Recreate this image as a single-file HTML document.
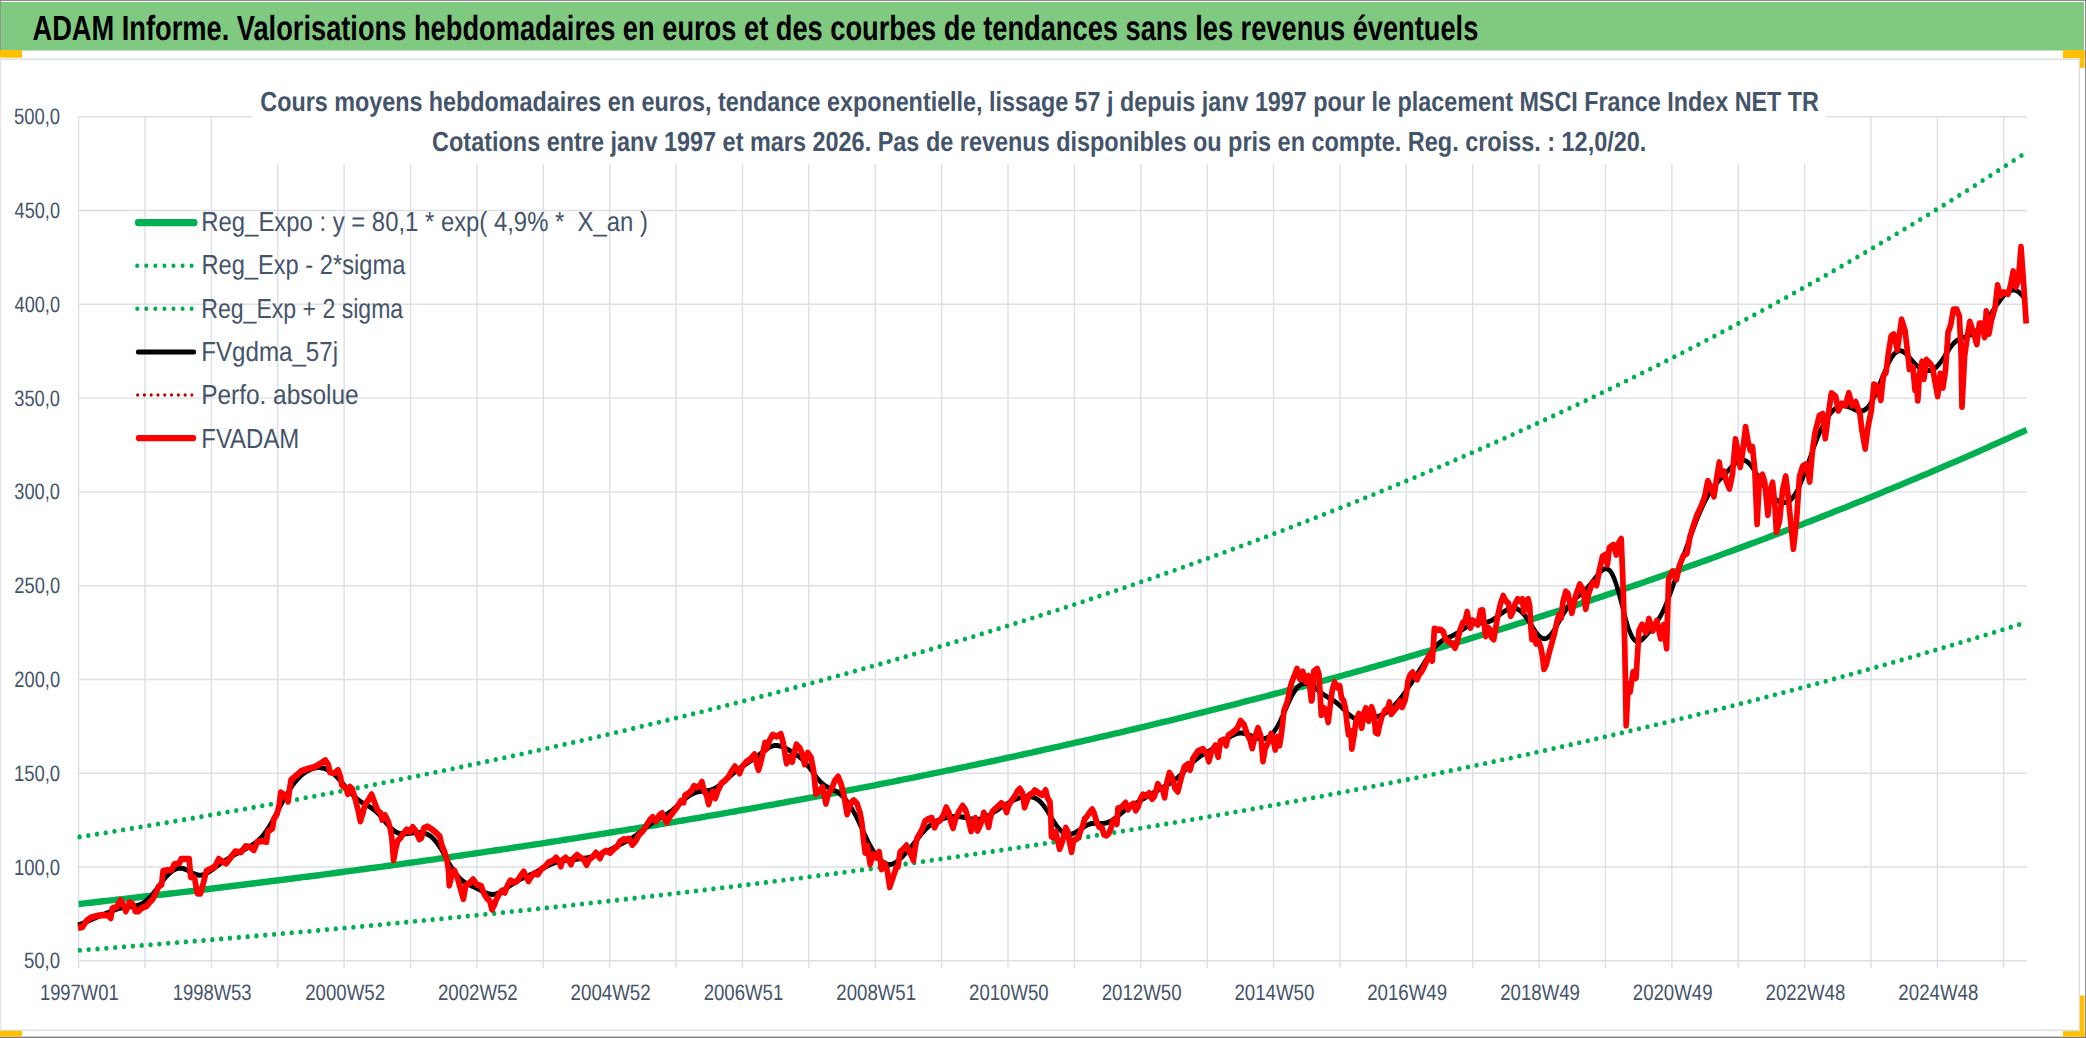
<!DOCTYPE html><html><head><meta charset="utf-8"><style>html,body{margin:0;padding:0;background:#fff;width:2086px;height:1038px;overflow:hidden}svg{display:block}text{font-family:"Liberation Sans", sans-serif;text-rendering:geometricPrecision}</style></head><body>
<svg width="2086" height="1038" viewBox="0 0 2086 1038">
<rect width="2086" height="1038" fill="#fff"/>
<rect x="1" y="2" width="2083" height="48.5" fill="#80C980"/>
<rect x="0" y="58.4" width="2080" height="1.5" fill="#DCDEE3"/>
<rect x="2078.6" y="58.4" width="1.4" height="972.5" fill="#DCDEE3"/>
<rect x="0" y="1029.6" width="2080" height="1.4" fill="#DCDEE3"/>
<rect x="0" y="58" width="1.3" height="973" fill="#E6E6E6"/>
<rect x="0" y="0" width="2086" height="0.9" fill="#7F7F7F"/>
<rect x="0" y="0" width="0.9" height="50.5" fill="#7F8F7F"/>
<rect x="2085" y="0" width="1" height="1038" fill="#8A8A8A"/>
<rect x="0" y="1036.6" width="2086" height="1.4" fill="#7F7F7F"/>
<rect x="0" y="50.1" width="22" height="7.6" fill="#FFC000"/>
<rect x="2063" y="50.1" width="21.5" height="8" fill="#FFC000"/>
<rect x="2080" y="50.1" width="4.5" height="17.8" fill="#FFC000"/>
<rect x="2080" y="995.5" width="4.5" height="41.2" fill="#FFC000"/>
<rect x="2063" y="1031.2" width="21.5" height="5.5" fill="#FFC000"/>
<rect x="0" y="1030.8" width="22" height="5.9" fill="#FFC000"/>
<path d="M78.60 116.80H252.5M1826 116.80H2026.7M78.60 210.57H2026.7M78.60 304.34H2026.7M78.60 398.11H2026.7M78.60 491.88H2026.7M78.60 585.65H2026.7M78.60 679.42H2026.7M78.60 773.19H2026.7M78.60 866.96H2026.7M78.60 960.73H2026.7M78.60 116.8V968.3M144.99 116.8V968.3M211.37 116.8V968.3M277.76 164V968.3M344.14 164V968.3M410.53 164V968.3M476.92 164V968.3M543.30 164V968.3M609.69 164V968.3M676.07 164V968.3M742.46 164V968.3M808.85 164V968.3M875.23 164V968.3M941.62 164V968.3M1008.00 164V968.3M1074.39 164V968.3M1140.78 164V968.3M1207.16 164V968.3M1273.55 164V968.3M1339.93 164V968.3M1406.32 164V968.3M1472.71 164V968.3M1539.09 164V968.3M1605.48 164V968.3M1671.86 164V968.3M1738.25 164V968.3M1804.64 164V968.3M1871.02 116.8V968.3M1937.41 116.8V968.3M2003.79 116.8V968.3" stroke="#DDE0E6" stroke-width="1.45" fill="none"/>
<text x="32.49" y="40" font-size="34.8" font-weight="bold" fill="#000" textLength="1445.86" lengthAdjust="spacingAndGlyphs">ADAM Informe. Valorisations hebdomadaires en euros et des courbes de tendances sans les revenus éventuels</text>
<text x="260.29" y="110.7" font-size="27.6" font-weight="bold" fill="#44546A" textLength="1558.65" lengthAdjust="spacingAndGlyphs">Cours moyens hebdomadaires en euros, tendance exponentielle, lissage 57 j depuis janv 1997 pour le placement MSCI France Index NET TR</text>
<text x="432.08" y="151.3" font-size="27.6" font-weight="bold" fill="#44546A" textLength="1214.23" lengthAdjust="spacingAndGlyphs">Cotations entre janv 1997 et mars 2026. Pas de revenus disponibles ou pris en compte. Reg. croiss. : 12,0/20.</text>
<text x="201.32" y="230.8" font-size="27.5" fill="#44546A" textLength="446.60" lengthAdjust="spacingAndGlyphs">Reg_Expo : y = 80,1 * exp( 4,9% *  X_an )</text>
<text x="201.44" y="274.2" font-size="27.5" fill="#44546A" textLength="203.85" lengthAdjust="spacingAndGlyphs">Reg_Exp - 2*sigma</text>
<text x="201.24" y="317.5" font-size="27.5" fill="#44546A" textLength="201.95" lengthAdjust="spacingAndGlyphs">Reg_Exp + 2 sigma</text>
<text x="201.23" y="360.9" font-size="27.5" fill="#44546A" textLength="136.86" lengthAdjust="spacingAndGlyphs">FVgdma_57j</text>
<text x="201.14" y="404.2" font-size="27.5" fill="#44546A" textLength="157.53" lengthAdjust="spacingAndGlyphs">Perfo. absolue</text>
<text x="201.30" y="447.6" font-size="27.5" fill="#44546A" textLength="98.02" lengthAdjust="spacingAndGlyphs">FVADAM</text>
<text x="13.94" y="124.3" font-size="22.3" fill="#44546A" textLength="46.20" lengthAdjust="spacingAndGlyphs">500,0</text>
<text x="14.62" y="218.1" font-size="22.3" fill="#44546A" textLength="45.37" lengthAdjust="spacingAndGlyphs">450,0</text>
<text x="14.62" y="311.8" font-size="22.3" fill="#44546A" textLength="45.37" lengthAdjust="spacingAndGlyphs">400,0</text>
<text x="14.34" y="405.6" font-size="22.3" fill="#44546A" textLength="45.62" lengthAdjust="spacingAndGlyphs">350,0</text>
<text x="14.34" y="499.4" font-size="22.3" fill="#44546A" textLength="45.62" lengthAdjust="spacingAndGlyphs">300,0</text>
<text x="14.33" y="593.1" font-size="22.3" fill="#44546A" textLength="45.74" lengthAdjust="spacingAndGlyphs">250,0</text>
<text x="14.33" y="686.9" font-size="22.3" fill="#44546A" textLength="45.74" lengthAdjust="spacingAndGlyphs">200,0</text>
<text x="13.88" y="780.7" font-size="22.3" fill="#44546A" textLength="46.19" lengthAdjust="spacingAndGlyphs">150,0</text>
<text x="13.88" y="874.5" font-size="22.3" fill="#44546A" textLength="46.19" lengthAdjust="spacingAndGlyphs">100,0</text>
<text x="23.89" y="968.2" font-size="22.3" fill="#44546A" textLength="36.13" lengthAdjust="spacingAndGlyphs">50,0</text>
<text x="39.91" y="999.9" font-size="22.3" fill="#44546A" textLength="78.73" lengthAdjust="spacingAndGlyphs">1997W01</text>
<text x="172.64" y="999.9" font-size="22.3" fill="#44546A" textLength="78.94" lengthAdjust="spacingAndGlyphs">1998W53</text>
<text x="305.28" y="999.9" font-size="22.3" fill="#44546A" textLength="79.72" lengthAdjust="spacingAndGlyphs">2000W52</text>
<text x="437.94" y="999.9" font-size="22.3" fill="#44546A" textLength="79.80" lengthAdjust="spacingAndGlyphs">2002W52</text>
<text x="570.60" y="999.9" font-size="22.3" fill="#44546A" textLength="80.06" lengthAdjust="spacingAndGlyphs">2004W52</text>
<text x="703.66" y="999.9" font-size="22.3" fill="#44546A" textLength="79.59" lengthAdjust="spacingAndGlyphs">2006W51</text>
<text x="836.35" y="999.9" font-size="22.3" fill="#44546A" textLength="79.70" lengthAdjust="spacingAndGlyphs">2008W51</text>
<text x="969.07" y="999.9" font-size="22.3" fill="#44546A" textLength="79.61" lengthAdjust="spacingAndGlyphs">2010W50</text>
<text x="1101.70" y="999.9" font-size="22.3" fill="#44546A" textLength="79.84" lengthAdjust="spacingAndGlyphs">2012W50</text>
<text x="1234.45" y="999.9" font-size="22.3" fill="#44546A" textLength="79.84" lengthAdjust="spacingAndGlyphs">2014W50</text>
<text x="1367.23" y="999.9" font-size="22.3" fill="#44546A" textLength="79.87" lengthAdjust="spacingAndGlyphs">2016W49</text>
<text x="1500.26" y="999.9" font-size="22.3" fill="#44546A" textLength="79.68" lengthAdjust="spacingAndGlyphs">2018W49</text>
<text x="1632.78" y="999.9" font-size="22.3" fill="#44546A" textLength="79.78" lengthAdjust="spacingAndGlyphs">2020W49</text>
<text x="1765.52" y="999.9" font-size="22.3" fill="#44546A" textLength="79.75" lengthAdjust="spacingAndGlyphs">2022W48</text>
<text x="1898.36" y="999.9" font-size="22.3" fill="#44546A" textLength="79.97" lengthAdjust="spacingAndGlyphs">2024W48</text>
<g transform="scale(0.88,1)">
<path d="M89.32 904.0L93.86 903.6L98.41 903.1L102.95 902.7L107.50 902.2L112.05 901.8L116.59 901.3L121.14 900.9L125.68 900.4L130.23 900.0L134.77 899.5L139.32 899.1L143.86 898.6L148.41 898.2L152.95 897.7L157.50 897.3L162.05 896.8L166.59 896.3L171.14 895.9L175.68 895.4L180.23 894.9L184.77 894.5L189.32 894.0L193.86 893.5L198.41 893.1L202.95 892.6L207.50 892.1L212.05 891.6L216.59 891.2L221.14 890.7L225.68 890.2L230.23 889.7L234.77 889.2L239.32 888.8L243.86 888.3L248.41 887.8L252.95 887.3L257.50 886.8L262.05 886.3L266.59 885.8L271.14 885.3L275.68 884.8L280.23 884.3L284.77 883.8L289.32 883.3L293.86 882.8L298.41 882.3L302.95 881.8L307.50 881.3L312.05 880.8L316.59 880.3L321.14 879.8L325.68 879.3L330.23 878.8L334.77 878.3L339.32 877.8L343.86 877.2L348.41 876.7L352.95 876.2L357.50 875.7L362.05 875.2L366.59 874.6L371.14 874.1L375.68 873.6L380.23 873.0L384.77 872.5L389.32 872.0L393.86 871.4L398.41 870.9L402.95 870.4L407.50 869.8L412.05 869.3L416.59 868.8L421.14 868.2L425.68 867.7L430.23 867.1L434.77 866.6L439.32 866.0L443.86 865.5L448.41 864.9L452.95 864.4L457.50 863.8L462.05 863.2L466.59 862.7L471.14 862.1L475.68 861.6L480.23 861.0L484.77 860.4L489.32 859.9L493.86 859.3L498.41 858.7L502.95 858.2L507.50 857.6L512.05 857.0L516.59 856.4L521.14 855.8L525.68 855.3L530.23 854.7L534.77 854.1L539.32 853.5L543.86 852.9L548.41 852.3L552.95 851.7L557.50 851.1L562.05 850.5L566.59 850.0L571.14 849.4L575.68 848.8L580.23 848.1L584.77 847.5L589.32 846.9L593.86 846.3L598.41 845.7L602.95 845.1L607.50 844.5L612.05 843.9L616.59 843.3L621.14 842.7L625.68 842.0L630.23 841.4L634.77 840.8L639.32 840.2L643.86 839.5L648.41 838.9L652.95 838.3L657.50 837.6L662.05 837.0L666.59 836.4L671.14 835.7L675.68 835.1L680.23 834.4L684.77 833.8L689.32 833.2L693.86 832.5L698.41 831.9L702.95 831.2L707.50 830.6L712.05 829.9L716.59 829.2L721.14 828.6L725.68 827.9L730.23 827.3L734.77 826.6L739.32 825.9L743.86 825.3L748.41 824.6L752.95 823.9L757.50 823.2L762.05 822.6L766.59 821.9L771.14 821.2L775.68 820.5L780.23 819.8L784.77 819.1L789.32 818.5L793.86 817.8L798.41 817.1L802.95 816.4L807.50 815.7L812.05 815.0L816.59 814.3L821.14 813.6L825.68 812.9L830.23 812.2L834.77 811.5L839.32 810.7L843.86 810.0L848.41 809.3L852.95 808.6L857.50 807.9L862.05 807.2L866.59 806.4L871.14 805.7L875.68 805.0L880.23 804.3L884.77 803.5L889.32 802.8L893.86 802.0L898.41 801.3L902.95 800.6L907.50 799.8L912.05 799.1L916.59 798.3L921.14 797.6L925.68 796.8L930.23 796.1L934.77 795.3L939.32 794.6L943.86 793.8L948.41 793.0L952.95 792.3L957.50 791.5L962.05 790.7L966.59 790.0L971.14 789.2L975.68 788.4L980.23 787.6L984.77 786.9L989.32 786.1L993.86 785.3L998.41 784.5L1002.95 783.7L1007.50 782.9L1012.05 782.1L1016.59 781.3L1021.14 780.5L1025.68 779.7L1030.23 778.9L1034.77 778.1L1039.32 777.3L1043.86 776.5L1048.41 775.7L1052.95 774.9L1057.50 774.0L1062.05 773.2L1066.59 772.4L1071.14 771.6L1075.68 770.7L1080.23 769.9L1084.77 769.1L1089.32 768.2L1093.86 767.4L1098.41 766.6L1102.95 765.7L1107.50 764.9L1112.05 764.0L1116.59 763.2L1121.14 762.3L1125.68 761.5L1130.23 760.6L1134.77 759.8L1139.32 758.9L1143.86 758.0L1148.41 757.2L1152.95 756.3L1157.50 755.4L1162.05 754.5L1166.59 753.7L1171.14 752.8L1175.68 751.9L1180.23 751.0L1184.77 750.1L1189.32 749.2L1193.86 748.3L1198.41 747.4L1202.95 746.6L1207.50 745.7L1212.05 744.7L1216.59 743.8L1221.14 742.9L1225.68 742.0L1230.23 741.1L1234.77 740.2L1239.32 739.3L1243.86 738.3L1248.41 737.4L1252.95 736.5L1257.50 735.6L1262.05 734.6L1266.59 733.7L1271.14 732.8L1275.68 731.8L1280.23 730.9L1284.77 729.9L1289.32 729.0L1293.86 728.0L1298.41 727.1L1302.95 726.1L1307.50 725.1L1312.05 724.2L1316.59 723.2L1321.14 722.2L1325.68 721.3L1330.23 720.3L1334.77 719.3L1339.32 718.3L1343.86 717.4L1348.41 716.4L1352.95 715.4L1357.50 714.4L1362.05 713.4L1366.59 712.4L1371.14 711.4L1375.68 710.4L1380.23 709.4L1384.77 708.4L1389.32 707.4L1393.86 706.3L1398.41 705.3L1402.95 704.3L1407.50 703.3L1412.05 702.2L1416.59 701.2L1421.14 700.2L1425.68 699.1L1430.23 698.1L1434.77 697.1L1439.32 696.0L1443.86 695.0L1448.41 693.9L1452.95 692.9L1457.50 691.8L1462.05 690.7L1466.59 689.7L1471.14 688.6L1475.68 687.5L1480.23 686.5L1484.77 685.4L1489.32 684.3L1493.86 683.2L1498.41 682.1L1502.95 681.0L1507.50 679.9L1512.05 678.9L1516.59 677.8L1521.14 676.7L1525.68 675.5L1530.23 674.4L1534.77 673.3L1539.32 672.2L1543.86 671.1L1548.41 670.0L1552.95 668.8L1557.50 667.7L1562.05 666.6L1566.59 665.4L1571.14 664.3L1575.68 663.2L1580.23 662.0L1584.77 660.9L1589.32 659.7L1593.86 658.6L1598.41 657.4L1602.95 656.2L1607.50 655.1L1612.05 653.9L1616.59 652.7L1621.14 651.6L1625.68 650.4L1630.23 649.2L1634.77 648.0L1639.32 646.8L1643.86 645.6L1648.41 644.4L1652.95 643.2L1657.50 642.0L1662.05 640.8L1666.59 639.6L1671.14 638.4L1675.68 637.2L1680.23 636.0L1684.77 634.7L1689.32 633.5L1693.86 632.3L1698.41 631.0L1702.95 629.8L1707.50 628.6L1712.05 627.3L1716.59 626.1L1721.14 624.8L1725.68 623.5L1730.23 622.3L1734.77 621.0L1739.32 619.8L1743.86 618.5L1748.41 617.2L1752.95 615.9L1757.50 614.6L1762.05 613.4L1766.59 612.1L1771.14 610.8L1775.68 609.5L1780.23 608.2L1784.77 606.9L1789.32 605.6L1793.86 604.2L1798.41 602.9L1802.95 601.6L1807.50 600.3L1812.05 598.9L1816.59 597.6L1821.14 596.3L1825.68 594.9L1830.23 593.6L1834.77 592.2L1839.32 590.9L1843.86 589.5L1848.41 588.2L1852.95 586.8L1857.50 585.4L1862.05 584.1L1866.59 582.7L1871.14 581.3L1875.68 579.9L1880.23 578.5L1884.77 577.1L1889.32 575.7L1893.86 574.3L1898.41 572.9L1902.95 571.5L1907.50 570.1L1912.05 568.7L1916.59 567.3L1921.14 565.8L1925.68 564.4L1930.23 563.0L1934.77 561.5L1939.32 560.1L1943.86 558.7L1948.41 557.2L1952.95 555.7L1957.50 554.3L1962.05 552.8L1966.59 551.4L1971.14 549.9L1975.68 548.4L1980.23 546.9L1984.77 545.4L1989.32 543.9L1993.86 542.5L1998.41 541.0L2002.95 539.5L2007.50 537.9L2012.05 536.4L2016.59 534.9L2021.14 533.4L2025.68 531.9L2030.23 530.3L2034.77 528.8L2039.32 527.3L2043.86 525.7L2048.41 524.2L2052.95 522.6L2057.50 521.1L2062.05 519.5L2066.59 517.9L2071.14 516.4L2075.68 514.8L2080.23 513.2L2084.77 511.6L2089.32 510.0L2093.86 508.5L2098.41 506.9L2102.95 505.3L2107.50 503.6L2112.05 502.0L2116.59 500.4L2121.14 498.8L2125.68 497.2L2130.23 495.5L2134.77 493.9L2139.32 492.3L2143.86 490.6L2148.41 489.0L2152.95 487.3L2157.50 485.7L2162.05 484.0L2166.59 482.3L2171.14 480.6L2175.68 479.0L2180.23 477.3L2184.77 475.6L2189.32 473.9L2193.86 472.2L2198.41 470.5L2202.95 468.8L2207.50 467.1L2212.05 465.3L2216.59 463.6L2221.14 461.9L2225.68 460.2L2230.23 458.4L2234.77 456.7L2239.32 454.9L2243.86 453.2L2248.41 451.4L2252.95 449.6L2257.50 447.9L2262.05 446.1L2266.59 444.3L2271.14 442.5L2275.68 440.7L2280.23 438.9L2284.77 437.1L2289.32 435.3L2293.86 433.5L2298.41 431.7L2302.95 429.9" stroke="#00B050" stroke-width="6.4" fill="none" stroke-linejoin="round"/>
<path d="M90.73 950.24h0M100.77 949.57h0M110.82 948.89h0M120.86 948.20h0M130.90 947.51h0M140.95 946.82h0M150.99 946.12h0M161.02 945.42h0M171.06 944.72h0M181.10 944.00h0M191.13 943.29h0M201.17 942.57h0M211.20 941.85h0M221.23 941.12h0M231.27 940.38h0M241.30 939.64h0M251.32 938.90h0M261.35 938.15h0M271.38 937.40h0M281.40 936.64h0M291.42 935.88h0M301.45 935.12h0M311.47 934.34h0M321.49 933.57h0M331.51 932.79h0M341.52 932.00h0M351.54 931.21h0M361.55 930.41h0M371.57 929.61h0M381.58 928.80h0M391.59 927.99h0M401.60 927.18h0M411.61 926.35h0M421.61 925.53h0M431.62 924.69h0M441.62 923.86h0M451.63 923.01h0M461.63 922.17h0M471.63 921.31h0M481.62 920.45h0M491.62 919.59h0M501.62 918.72h0M511.61 917.84h0M521.60 916.96h0M531.59 916.08h0M541.58 915.19h0M551.57 914.29h0M561.56 913.38h0M571.55 912.48h0M581.53 911.56h0M591.51 910.64h0M601.49 909.72h0M611.47 908.78h0M621.45 907.85h0M631.43 906.90h0M641.40 905.95h0M651.37 905.00h0M661.34 904.04h0M671.31 903.07h0M681.28 902.09h0M691.25 901.11h0M701.21 900.13h0M711.18 899.14h0M721.14 898.14h0M731.10 897.13h0M741.06 896.12h0M751.02 895.11h0M760.97 894.08h0M770.93 893.05h0M780.88 892.02h0M790.83 890.97h0M800.78 889.92h0M810.72 888.87h0M820.67 887.81h0M830.61 886.74h0M840.55 885.66h0M850.49 884.58h0M860.43 883.49h0M870.37 882.39h0M880.30 881.29h0M890.23 880.18h0M900.16 879.07h0M910.09 877.94h0M920.02 876.81h0M929.95 875.67h0M939.87 874.53h0M949.79 873.38h0M959.71 872.22h0M969.63 871.05h0M979.54 869.88h0M989.46 868.70h0M999.37 867.51h0M1009.28 866.32h0M1019.19 865.11h0M1029.09 863.90h0M1039.00 862.69h0M1048.90 861.46h0M1058.80 860.23h0M1068.70 858.99h0M1078.59 857.74h0M1088.49 856.49h0M1098.38 855.22h0M1108.27 853.95h0M1118.16 852.67h0M1128.04 851.39h0M1137.93 850.09h0M1147.81 848.79h0M1157.69 847.48h0M1167.56 846.16h0M1177.44 844.83h0M1187.31 843.50h0M1197.18 842.15h0M1207.05 840.80h0M1216.92 839.44h0M1226.78 838.07h0M1236.64 836.70h0M1246.50 835.31h0M1256.36 833.92h0M1266.21 832.52h0M1276.07 831.11h0M1285.92 829.69h0M1295.76 828.26h0M1305.61 826.82h0M1315.45 825.38h0M1325.29 823.92h0M1335.13 822.46h0M1344.97 820.99h0M1354.80 819.51h0M1364.63 818.02h0M1374.46 816.52h0M1384.29 815.01h0M1394.11 813.49h0M1403.93 811.97h0M1413.75 810.43h0M1423.57 808.88h0M1433.38 807.33h0M1443.19 805.77h0M1453.00 804.19h0M1462.81 802.61h0M1472.61 801.02h0M1482.41 799.41h0M1492.21 797.80h0M1502.00 796.18h0M1511.80 794.55h0M1521.59 792.91h0M1531.38 791.26h0M1541.16 789.60h0M1550.94 787.92h0M1560.72 786.24h0M1570.50 784.55h0M1580.27 782.85h0M1590.04 781.14h0M1599.81 779.42h0M1609.58 777.68h0M1619.34 775.94h0M1629.10 774.19h0M1638.85 772.42h0M1648.61 770.65h0M1658.36 768.86h0M1668.11 767.07h0M1677.85 765.26h0M1687.59 763.45h0M1697.33 761.62h0M1707.07 759.78h0M1716.80 757.93h0M1726.53 756.07h0M1736.26 754.20h0M1745.98 752.31h0M1755.70 750.42h0M1765.42 748.51h0M1775.14 746.59h0M1784.85 744.67h0M1794.56 742.73h0M1804.26 740.77h0M1813.96 738.81h0M1823.66 736.84h0M1833.36 734.85h0M1843.05 732.85h0M1852.74 730.84h0M1862.42 728.82h0M1872.11 726.79h0M1881.79 724.74h0M1891.46 722.68h0M1901.13 720.62h0M1910.80 718.53h0M1920.47 716.44h0M1930.13 714.33h0M1939.79 712.21h0M1949.44 710.08h0M1959.09 707.94h0M1968.74 705.78h0M1978.39 703.61h0M1988.03 701.43h0M1997.66 699.24h0M2007.30 697.03h0M2016.93 694.81h0M2026.55 692.58h0M2036.18 690.33h0M2045.80 688.07h0M2055.41 685.80h0M2065.02 683.51h0M2074.63 681.22h0M2084.23 678.90h0M2093.84 676.58h0M2103.43 674.24h0M2113.02 671.89h0M2122.61 669.52h0M2132.20 667.14h0M2141.78 664.75h0M2151.36 662.34h0M2160.93 659.92h0M2170.50 657.49h0M2180.06 655.04h0M2189.62 652.57h0M2199.18 650.10h0M2208.73 647.61h0M2218.28 645.10h0M2227.83 642.58h0M2237.37 640.05h0M2246.90 637.50h0M2256.44 634.93h0M2265.96 632.35h0M2275.49 629.76h0M2285.01 627.15h0M2294.52 624.53h0" stroke="#00B050" stroke-width="5.1" stroke-linecap="round" fill="none"/>
<path d="M90.39 836.90h0M100.30 835.51h0M110.21 834.11h0M120.12 832.70h0M130.02 831.28h0M139.93 829.86h0M149.83 828.42h0M159.73 826.98h0M169.63 825.53h0M179.52 824.07h0M189.41 822.60h0M199.30 821.12h0M209.19 819.63h0M219.07 818.13h0M228.95 816.63h0M238.83 815.11h0M248.71 813.59h0M258.59 812.05h0M268.46 810.51h0M278.33 808.95h0M288.19 807.39h0M298.06 805.82h0M307.92 804.24h0M317.78 802.65h0M327.64 801.05h0M337.49 799.43h0M347.34 797.81h0M357.19 796.18h0M367.03 794.54h0M376.88 792.89h0M386.72 791.23h0M396.56 789.56h0M406.39 787.88h0M416.22 786.19h0M426.05 784.49h0M435.88 782.78h0M445.70 781.06h0M455.52 779.33h0M465.34 777.58h0M475.16 775.83h0M484.97 774.07h0M494.78 772.29h0M504.58 770.51h0M514.39 768.71h0M524.19 766.91h0M533.98 765.09h0M543.78 763.26h0M553.57 761.42h0M563.36 759.57h0M573.14 757.71h0M582.93 755.84h0M592.71 753.95h0M602.48 752.06h0M612.25 750.15h0M622.02 748.24h0M631.79 746.31h0M641.55 744.37h0M651.31 742.41h0M661.07 740.45h0M670.83 738.47h0M680.58 736.49h0M690.32 734.49h0M700.07 732.48h0M709.81 730.45h0M719.55 728.42h0M729.28 726.37h0M739.01 724.31h0M748.74 722.24h0M758.46 720.16h0M768.18 718.06h0M777.90 715.95h0M787.61 713.83h0M797.32 711.70h0M807.03 709.55h0M816.73 707.40h0M826.43 705.22h0M836.12 703.04h0M845.82 700.84h0M855.50 698.63h0M865.19 696.41h0M874.87 694.18h0M884.55 691.93h0M894.22 689.66h0M903.89 687.39h0M913.56 685.10h0M923.22 682.80h0M932.88 680.48h0M942.53 678.15h0M952.18 675.81h0M961.83 673.46h0M971.47 671.09h0M981.11 668.70h0M990.75 666.31h0M1000.38 663.90h0M1010.01 661.47h0M1019.63 659.03h0M1029.25 656.58h0M1038.87 654.11h0M1048.48 651.63h0M1058.08 649.13h0M1067.69 646.62h0M1077.29 644.10h0M1086.88 641.56h0M1096.47 639.00h0M1106.06 636.43h0M1115.64 633.85h0M1125.22 631.25h0M1134.79 628.64h0M1144.36 626.01h0M1153.92 623.37h0M1163.49 620.71h0M1173.04 618.04h0M1182.59 615.35h0M1192.14 612.65h0M1201.68 609.93h0M1211.22 607.19h0M1220.75 604.44h0M1230.28 601.68h0M1239.81 598.89h0M1249.33 596.10h0M1258.84 593.28h0M1268.36 590.46h0M1277.86 587.61h0M1287.36 584.75h0M1296.86 581.87h0M1306.35 578.98h0M1315.84 576.07h0M1325.32 573.15h0M1334.80 570.20h0M1344.27 567.25h0M1353.74 564.27h0M1363.20 561.28h0M1372.66 558.27h0M1382.11 555.25h0M1391.56 552.20h0M1401.00 549.15h0M1410.44 546.07h0M1419.87 542.98h0M1429.30 539.87h0M1438.72 536.74h0M1448.14 533.60h0M1457.55 530.43h0M1466.96 527.26h0M1476.36 524.06h0M1485.76 520.84h0M1495.15 517.61h0M1504.54 514.36h0M1513.92 511.10h0M1523.29 507.81h0M1532.66 504.51h0M1542.03 501.19h0M1551.39 497.85h0M1560.74 494.49h0M1570.09 491.11h0M1579.43 487.72h0M1588.76 484.31h0M1598.10 480.88h0M1607.42 477.43h0M1616.74 473.96h0M1626.05 470.47h0M1635.36 466.97h0M1644.66 463.44h0M1653.96 459.90h0M1663.25 456.34h0M1672.54 452.76h0M1681.81 449.16h0M1691.09 445.54h0M1700.35 441.90h0M1709.62 438.24h0M1718.87 434.56h0M1728.12 430.87h0M1737.36 427.15h0M1746.60 423.41h0M1755.83 419.66h0M1765.05 415.88h0M1774.27 412.08h0M1783.48 408.27h0M1792.69 404.43h0M1801.89 400.58h0M1811.08 396.70h0M1820.27 392.80h0M1829.44 388.89h0M1838.62 384.95h0M1847.78 380.99h0M1856.95 377.01h0M1866.10 373.02h0M1875.25 369.00h0M1884.39 364.96h0M1893.52 360.90h0M1902.65 356.81h0M1911.77 352.71h0M1920.88 348.59h0M1929.99 344.44h0M1939.09 340.27h0M1948.18 336.09h0M1957.27 331.88h0M1966.35 327.65h0M1975.42 323.40h0M1984.48 319.12h0M1993.54 314.83h0M2002.59 310.51h0M2011.64 306.17h0M2020.67 301.81h0M2029.70 297.43h0M2038.73 293.03h0M2047.74 288.60h0M2056.75 284.15h0M2065.75 279.68h0M2074.74 275.19h0M2083.73 270.67h0M2092.71 266.14h0M2101.68 261.58h0M2110.64 256.99h0M2119.60 252.39h0M2128.54 247.76h0M2137.48 243.11h0M2146.42 238.44h0M2155.34 233.74h0M2164.26 229.02h0M2173.17 224.28h0M2182.07 219.52h0M2190.96 214.73h0M2199.85 209.92h0M2208.73 205.08h0M2217.60 200.23h0M2226.46 195.34h0M2235.31 190.44h0M2244.16 185.51h0M2253.00 180.56h0M2261.82 175.59h0M2270.65 170.59h0M2279.46 165.56h0M2288.26 160.52h0M2297.06 155.45h0" stroke="#00B050" stroke-width="5.1" stroke-linecap="round" fill="none"/>
<path d="M88.64 925.1L90.91 924.4L93.18 923.6L95.45 922.8L97.73 922.0L100.00 921.1L102.27 920.2L104.55 919.3L106.82 918.4L109.09 917.6L111.36 916.7L113.64 915.9L115.91 915.1L118.18 914.3L120.45 913.4L122.73 912.6L125.00 911.8L127.27 911.0L129.55 910.2L131.82 909.4L134.09 908.8L136.36 908.2L138.64 907.8L140.91 907.4L143.18 907.1L145.45 906.9L147.73 906.7L150.00 906.5L152.27 906.2L154.55 905.8L156.82 905.3L159.09 904.6L161.36 903.6L163.64 902.4L165.91 900.9L168.18 899.2L170.45 897.2L172.73 894.9L175.00 892.5L177.27 890.0L179.55 887.3L181.82 884.6L184.09 882.0L186.36 879.4L188.64 877.0L190.91 874.8L193.18 872.9L195.45 871.2L197.73 869.9L200.00 868.9L202.27 868.3L204.55 868.1L206.82 868.3L209.09 868.8L211.36 869.6L213.64 870.5L215.91 871.6L218.18 872.7L220.45 873.7L222.73 874.5L225.00 875.0L227.27 875.2L229.55 875.0L231.82 874.5L234.09 873.6L236.36 872.5L238.64 871.2L240.91 869.8L243.18 868.3L245.45 866.8L247.73 865.3L250.00 863.8L252.27 862.5L254.55 861.1L256.82 859.9L259.09 858.6L261.36 857.4L263.64 856.3L265.91 855.1L268.18 854.0L270.45 852.9L272.73 851.8L275.00 850.8L277.27 849.7L279.55 848.7L281.82 847.6L284.09 846.5L286.36 845.2L288.64 843.9L290.91 842.4L293.18 840.7L295.45 838.7L297.73 836.5L300.00 834.1L302.27 831.3L304.55 828.3L306.82 825.1L309.09 821.6L311.36 818.0L313.64 814.2L315.91 810.4L318.18 806.7L320.45 802.9L322.73 799.2L325.00 795.7L327.27 792.4L329.55 789.2L331.82 786.2L334.09 783.5L336.36 780.9L338.64 778.7L340.91 776.6L343.18 774.8L345.45 773.2L347.73 771.8L350.00 770.6L352.27 769.6L354.55 768.8L356.82 768.2L359.09 767.8L361.36 767.6L363.64 767.6L365.91 767.9L368.18 768.3L370.45 769.1L372.73 770.0L375.00 771.2L377.27 772.6L379.55 774.3L381.82 776.1L384.09 778.1L386.36 780.3L388.64 782.5L390.91 784.9L393.18 787.2L395.45 789.6L397.73 791.9L400.00 794.1L402.27 796.1L404.55 798.0L406.82 799.7L409.09 801.2L411.36 802.5L413.64 803.7L415.91 804.8L418.18 805.9L420.45 807.0L422.73 808.3L425.00 809.8L427.27 811.5L429.55 813.4L431.82 815.5L434.09 817.8L436.36 820.2L438.64 822.7L440.91 825.0L443.18 827.2L445.45 829.1L447.73 830.7L450.00 832.0L452.27 833.0L454.55 833.6L456.82 833.9L459.09 833.9L461.36 833.8L463.64 833.6L465.91 833.3L468.18 833.0L470.45 832.8L472.73 832.6L475.00 832.5L477.27 832.5L479.55 832.7L481.82 833.1L484.09 833.7L486.36 834.6L488.64 835.8L490.91 837.4L493.18 839.3L495.45 841.7L497.73 844.4L500.00 847.4L502.27 850.7L504.55 854.2L506.82 857.8L509.09 861.3L511.36 864.8L513.64 868.1L515.91 871.2L518.18 874.0L520.45 876.4L522.73 878.5L525.00 880.3L527.27 881.8L529.55 883.1L531.82 884.2L534.09 885.2L536.36 886.1L538.64 887.0L540.91 888.0L543.18 889.0L545.45 890.0L547.73 891.1L550.00 892.1L552.27 893.0L554.55 893.7L556.82 894.1L559.09 894.4L561.36 894.3L563.64 893.9L565.91 893.2L568.18 892.3L570.45 891.2L572.73 889.9L575.00 888.5L577.27 887.1L579.55 885.7L581.82 884.3L584.09 882.9L586.36 881.7L588.64 880.5L590.91 879.4L593.18 878.5L595.45 877.5L597.73 876.6L600.00 875.8L602.27 874.9L604.55 874.0L606.82 873.0L609.09 872.0L611.36 870.9L613.64 869.9L615.91 868.8L618.18 867.7L620.45 866.6L622.73 865.6L625.00 864.7L627.27 863.8L629.55 863.1L631.82 862.4L634.09 861.8L636.36 861.4L638.64 860.9L640.91 860.6L643.18 860.3L645.45 860.0L647.73 859.8L650.00 859.6L652.27 859.4L654.55 859.2L656.82 859.0L659.09 858.8L661.36 858.6L663.64 858.3L665.91 858.0L668.18 857.7L670.45 857.2L672.73 856.8L675.00 856.2L677.27 855.6L679.55 854.9L681.82 854.2L684.09 853.4L686.36 852.5L688.64 851.6L690.91 850.7L693.18 849.7L695.45 848.7L697.73 847.7L700.00 846.6L702.27 845.6L704.55 844.5L706.82 843.5L709.09 842.5L711.36 841.4L713.64 840.4L715.91 839.2L718.18 838.0L720.45 836.8L722.73 835.4L725.00 833.9L727.27 832.4L729.55 830.8L731.82 829.2L734.09 827.5L736.36 826.0L738.64 824.4L740.91 823.0L743.18 821.7L745.45 820.4L747.73 819.2L750.00 818.1L752.27 817.0L754.55 815.9L756.82 814.7L759.09 813.4L761.36 812.0L763.64 810.5L765.91 808.8L768.18 807.1L770.45 805.3L772.73 803.5L775.00 801.6L777.27 799.8L779.55 798.1L781.82 796.6L784.09 795.2L786.36 794.1L788.64 793.1L790.91 792.4L793.18 791.9L795.45 791.5L797.73 791.3L800.00 791.1L802.27 790.9L804.55 790.6L806.82 790.2L809.09 789.6L811.36 788.7L813.64 787.7L815.91 786.4L818.18 785.0L820.45 783.4L822.73 781.6L825.00 779.9L827.27 778.0L829.55 776.2L831.82 774.5L834.09 772.8L836.36 771.2L838.64 769.6L840.91 768.1L843.18 766.7L845.45 765.4L847.73 764.1L850.00 762.7L852.27 761.4L854.55 760.1L856.82 758.7L859.09 757.2L861.36 755.7L863.64 754.1L865.91 752.5L868.18 750.9L870.45 749.4L872.73 748.1L875.00 747.0L877.27 746.1L879.55 745.6L881.82 745.4L884.09 745.6L886.36 746.0L888.64 746.7L890.91 747.6L893.18 748.5L895.45 749.6L897.73 750.7L900.00 751.9L902.27 753.1L904.55 754.4L906.82 755.8L909.09 757.4L911.36 759.1L913.64 761.1L915.91 763.4L918.18 765.8L920.45 768.5L922.73 771.2L925.00 773.9L927.27 776.6L929.55 779.1L931.82 781.3L934.09 783.3L936.36 784.9L938.64 786.3L940.91 787.5L943.18 788.4L945.45 789.4L947.73 790.3L950.00 791.3L952.27 792.5L954.55 794.0L956.82 795.7L959.09 797.7L961.36 800.0L963.64 802.7L965.91 805.7L968.18 808.9L970.45 812.5L972.73 816.3L975.00 820.3L977.27 824.5L979.55 828.8L981.82 833.1L984.09 837.3L986.36 841.4L988.64 845.2L990.91 848.8L993.18 852.1L995.45 855.0L997.73 857.5L1000.00 859.7L1002.27 861.5L1004.55 862.9L1006.82 863.9L1009.09 864.4L1011.36 864.5L1013.64 864.1L1015.91 863.4L1018.18 862.2L1020.45 860.7L1022.73 859.0L1025.00 857.1L1027.27 855.0L1029.55 852.8L1031.82 850.4L1034.09 848.1L1036.36 845.6L1038.64 843.2L1040.91 840.7L1043.18 838.2L1045.45 835.7L1047.73 833.3L1050.00 831.1L1052.27 829.0L1054.55 827.1L1056.82 825.4L1059.09 823.9L1061.36 822.6L1063.64 821.4L1065.91 820.4L1068.18 819.6L1070.45 818.9L1072.73 818.3L1075.00 817.8L1077.27 817.4L1079.55 817.0L1081.82 816.8L1084.09 816.6L1086.36 816.6L1088.64 816.6L1090.91 816.8L1093.18 817.0L1095.45 817.4L1097.73 817.8L1100.00 818.2L1102.27 818.7L1104.55 819.0L1106.82 819.3L1109.09 819.4L1111.36 819.3L1113.64 819.0L1115.91 818.5L1118.18 817.8L1120.45 816.9L1122.73 815.8L1125.00 814.7L1127.27 813.4L1129.55 812.1L1131.82 810.8L1134.09 809.5L1136.36 808.2L1138.64 806.9L1140.91 805.6L1143.18 804.4L1145.45 803.2L1147.73 802.1L1150.00 801.0L1152.27 800.0L1154.55 799.2L1156.82 798.4L1159.09 797.7L1161.36 797.2L1163.64 796.8L1165.91 796.6L1168.18 796.5L1170.45 796.6L1172.73 796.9L1175.00 797.5L1177.27 798.5L1179.55 799.8L1181.82 801.5L1184.09 803.6L1186.36 806.1L1188.64 809.0L1190.91 812.1L1193.18 815.3L1195.45 818.6L1197.73 821.8L1200.00 824.8L1202.27 827.5L1204.55 829.8L1206.82 831.7L1209.09 833.1L1211.36 834.0L1213.64 834.4L1215.91 834.4L1218.18 834.0L1220.45 833.2L1222.73 832.2L1225.00 830.9L1227.27 829.6L1229.55 828.2L1231.82 826.8L1234.09 825.7L1236.36 824.7L1238.64 824.0L1240.91 823.5L1243.18 823.3L1245.45 823.2L1247.73 823.3L1250.00 823.4L1252.27 823.5L1254.55 823.3L1256.82 823.0L1259.09 822.4L1261.36 821.5L1263.64 820.4L1265.91 819.0L1268.18 817.5L1270.45 815.9L1272.73 814.2L1275.00 812.6L1277.27 811.0L1279.55 809.5L1281.82 808.1L1284.09 806.7L1286.36 805.5L1288.64 804.3L1290.91 803.1L1293.18 801.9L1295.45 800.8L1297.73 799.6L1300.00 798.4L1302.27 797.3L1304.55 796.1L1306.82 794.9L1309.09 793.7L1311.36 792.6L1313.64 791.4L1315.91 790.3L1318.18 789.1L1320.45 788.0L1322.73 786.8L1325.00 785.6L1327.27 784.4L1329.55 783.2L1331.82 781.9L1334.09 780.4L1336.36 778.9L1338.64 777.2L1340.91 775.4L1343.18 773.5L1345.45 771.4L1347.73 769.3L1350.00 767.2L1352.27 765.1L1354.55 763.1L1356.82 761.2L1359.09 759.5L1361.36 757.9L1363.64 756.4L1365.91 755.1L1368.18 753.9L1370.45 752.8L1372.73 751.7L1375.00 750.6L1377.27 749.5L1379.55 748.3L1381.82 747.1L1384.09 745.7L1386.36 744.3L1388.64 742.8L1390.91 741.2L1393.18 739.7L1395.45 738.2L1397.73 736.9L1400.00 735.6L1402.27 734.6L1404.55 733.8L1406.82 733.3L1409.09 733.1L1411.36 733.1L1413.64 733.4L1415.91 733.8L1418.18 734.5L1420.45 735.3L1422.73 736.1L1425.00 736.9L1427.27 737.7L1429.55 738.3L1431.82 738.7L1434.09 738.9L1436.36 738.8L1438.64 738.3L1440.91 737.4L1443.18 736.1L1445.45 734.2L1447.73 731.8L1450.00 728.8L1452.27 725.4L1454.55 721.5L1456.82 717.3L1459.09 712.8L1461.36 708.3L1463.64 703.8L1465.91 699.5L1468.18 695.6L1470.45 692.1L1472.73 689.2L1475.00 686.8L1477.27 685.1L1479.55 684.0L1481.82 683.4L1484.09 683.4L1486.36 683.8L1488.64 684.6L1490.91 685.8L1493.18 687.1L1495.45 688.7L1497.73 690.3L1500.00 691.9L1502.27 693.4L1504.55 694.8L1506.82 696.1L1509.09 697.4L1511.36 698.5L1513.64 699.7L1515.91 700.9L1518.18 702.3L1520.45 703.9L1522.73 705.7L1525.00 707.6L1527.27 709.7L1529.55 711.7L1531.82 713.7L1534.09 715.5L1536.36 716.9L1538.64 718.1L1540.91 718.9L1543.18 719.4L1545.45 719.6L1547.73 719.6L1550.00 719.4L1552.27 719.2L1554.55 718.8L1556.82 718.5L1559.09 718.1L1561.36 717.6L1563.64 717.1L1565.91 716.5L1568.18 715.7L1570.45 714.8L1572.73 713.7L1575.00 712.5L1577.27 711.1L1579.55 709.5L1581.82 707.7L1584.09 705.8L1586.36 703.7L1588.64 701.5L1590.91 699.0L1593.18 696.4L1595.45 693.7L1597.73 690.8L1600.00 687.9L1602.27 684.9L1604.55 681.9L1606.82 678.8L1609.09 675.8L1611.36 672.7L1613.64 669.5L1615.91 666.4L1618.18 663.2L1620.45 660.0L1622.73 656.9L1625.00 653.9L1627.27 651.0L1629.55 648.4L1631.82 646.0L1634.09 644.0L1636.36 642.3L1638.64 640.8L1640.91 639.7L1643.18 638.7L1645.45 637.8L1647.73 636.9L1650.00 636.0L1652.27 634.9L1654.55 633.8L1656.82 632.6L1659.09 631.2L1661.36 629.9L1663.64 628.5L1665.91 627.3L1668.18 626.2L1670.45 625.2L1672.73 624.4L1675.00 623.9L1677.27 623.5L1679.55 623.2L1681.82 623.1L1684.09 622.9L1686.36 622.7L1688.64 622.4L1690.91 621.9L1693.18 621.2L1695.45 620.2L1697.73 619.0L1700.00 617.6L1702.27 616.1L1704.55 614.5L1706.82 613.0L1709.09 611.6L1711.36 610.3L1713.64 609.3L1715.91 608.5L1718.18 608.1L1720.45 608.1L1722.73 608.5L1725.00 609.3L1727.27 610.6L1729.55 612.3L1731.82 614.4L1734.09 617.0L1736.36 619.9L1738.64 623.0L1740.91 626.2L1743.18 629.4L1745.45 632.3L1747.73 634.9L1750.00 636.9L1752.27 638.2L1754.55 638.8L1756.82 638.5L1759.09 637.5L1761.36 635.7L1763.64 633.2L1765.91 630.3L1768.18 626.9L1770.45 623.4L1772.73 619.8L1775.00 616.2L1777.27 612.8L1779.55 609.7L1781.82 606.8L1784.09 604.3L1786.36 602.0L1788.64 599.9L1790.91 598.1L1793.18 596.3L1795.45 594.6L1797.73 592.9L1800.00 591.1L1802.27 589.1L1804.55 587.0L1806.82 584.7L1809.09 582.3L1811.36 579.7L1813.64 577.1L1815.91 574.6L1818.18 572.3L1820.45 570.4L1822.73 569.1L1825.00 568.6L1827.27 569.2L1829.55 570.8L1831.82 573.8L1834.09 578.0L1836.36 583.5L1838.64 590.1L1840.91 597.4L1843.18 605.1L1845.45 612.9L1847.73 620.3L1850.00 626.9L1852.27 632.4L1854.55 636.7L1856.82 639.5L1859.09 641.1L1861.36 641.4L1863.64 640.8L1865.91 639.5L1868.18 637.6L1870.45 635.5L1872.73 633.2L1875.00 630.8L1877.27 628.4L1879.55 625.8L1881.82 623.1L1884.09 620.2L1886.36 616.9L1888.64 613.2L1890.91 609.0L1893.18 604.4L1895.45 599.5L1897.73 594.2L1900.00 588.7L1902.27 583.0L1904.55 577.2L1906.82 571.5L1909.09 565.7L1911.36 560.0L1913.64 554.3L1915.91 548.7L1918.18 543.1L1920.45 537.6L1922.73 532.2L1925.00 526.9L1927.27 521.7L1929.55 516.8L1931.82 512.0L1934.09 507.5L1936.36 503.2L1938.64 499.3L1940.91 495.7L1943.18 492.3L1945.45 489.3L1947.73 486.5L1950.00 484.0L1952.27 481.6L1954.55 479.3L1956.82 477.1L1959.09 475.0L1961.36 472.9L1963.64 470.7L1965.91 468.6L1968.18 466.5L1970.45 464.6L1972.73 462.9L1975.00 461.5L1977.27 460.5L1979.55 460.1L1981.82 460.2L1984.09 461.0L1986.36 462.4L1988.64 464.4L1990.91 467.0L1993.18 469.9L1995.45 473.1L1997.73 476.4L2000.00 479.8L2002.27 483.1L2004.55 486.3L2006.82 489.2L2009.09 491.9L2011.36 494.3L2013.64 496.4L2015.91 498.2L2018.18 499.7L2020.45 500.9L2022.73 501.8L2025.00 502.4L2027.27 502.6L2029.55 502.3L2031.82 501.6L2034.09 500.4L2036.36 498.5L2038.64 496.0L2040.91 492.9L2043.18 489.2L2045.45 484.8L2047.73 480.0L2050.00 474.8L2052.27 469.3L2054.55 463.7L2056.82 458.0L2059.09 452.3L2061.36 446.8L2063.64 441.5L2065.91 436.4L2068.18 431.7L2070.45 427.4L2072.73 423.4L2075.00 419.8L2077.27 416.7L2079.55 413.9L2081.82 411.6L2084.09 409.7L2086.36 408.1L2088.64 407.0L2090.91 406.2L2093.18 405.8L2095.45 405.8L2097.73 406.0L2100.00 406.6L2102.27 407.3L2104.55 408.3L2106.82 409.2L2109.09 410.1L2111.36 410.8L2113.64 411.1L2115.91 411.0L2118.18 410.4L2120.45 409.0L2122.73 407.1L2125.00 404.4L2127.27 401.1L2129.55 397.3L2131.82 393.0L2134.09 388.3L2136.36 383.4L2138.64 378.4L2140.91 373.5L2143.18 368.7L2145.45 364.3L2147.73 360.3L2150.00 356.9L2152.27 354.1L2154.55 352.2L2156.82 351.0L2159.09 350.6L2161.36 351.1L2163.64 352.2L2165.91 353.8L2168.18 355.9L2170.45 358.2L2172.73 360.5L2175.00 362.8L2177.27 364.9L2179.55 366.6L2181.82 368.1L2184.09 369.2L2186.36 370.0L2188.64 370.5L2190.91 370.6L2193.18 370.4L2195.45 369.8L2197.73 368.8L2200.00 367.3L2202.27 365.4L2204.55 363.0L2206.82 360.2L2209.09 357.2L2211.36 354.0L2213.64 350.9L2215.91 347.9L2218.18 345.3L2220.45 343.0L2222.73 341.2L2225.00 339.9L2227.27 338.8L2229.55 338.1L2231.82 337.4L2234.09 336.8L2236.36 336.0L2238.64 335.2L2240.91 334.1L2243.18 332.8L2245.45 331.3L2247.73 329.6L2250.00 327.6L2252.27 325.5L2254.55 323.2L2256.82 320.6L2259.09 317.9L2261.36 315.1L2263.64 312.1L2265.91 309.1L2268.18 306.1L2270.45 303.2L2272.73 300.4L2275.00 297.7L2277.27 295.4L2279.55 293.4L2281.82 291.7L2284.09 290.6L2286.36 289.9L2288.64 289.8L2290.91 290.4L2293.18 291.5L2295.45 293.1L2297.73 295.2L2300.00 297.7L2302.27 300.5" stroke="#000" stroke-width="5.0" fill="none" stroke-linejoin="round"/>
<path d="M88.64 927.8L93.75 927.0L97.95 921.0L103.86 917.3L110.68 915.8L118.30 915.1L123.41 915.8L125.91 918.0L127.61 908.4L132.73 906.9L136.93 900.1L140.34 905.4L142.95 911.3L147.16 902.4L150.57 903.9L153.98 911.3L157.27 911.3L161.59 907.6L166.70 906.1L170.00 902.4L173.41 899.4L176.82 893.4L180.23 886.7L183.64 884.5L185.34 871.0L190.45 870.3L195.45 869.6L198.07 864.3L203.98 862.8L205.68 859.1L215.00 859.1L216.70 877.0L220.91 877.8L224.32 893.4L227.73 893.4L231.14 883.0L234.55 871.0L239.55 868.8L244.32 866.4L248.52 859.0L251.93 861.2L257.05 863.4L262.16 857.5L267.16 851.5L273.98 852.2L279.09 846.3L284.20 847.0L288.41 850.0L292.61 841.8L298.64 841.0L302.84 841.8L304.55 831.3L309.66 828.4L311.36 818.7L314.77 814.2L317.27 805.2L318.98 792.5L323.18 794.8L327.39 801.5L329.09 788.8L330.80 779.9L336.70 775.4L342.73 770.9L350.34 768.7L357.16 767.2L363.07 764.2L369.77 760.4L373.18 764.9L374.89 772.4L380.00 773.1L384.20 770.1L386.82 776.9L388.52 785.1L393.52 788.8L395.23 794.0L397.73 786.9L400.23 789.2L403.64 798.9L407.05 810.8L409.55 821.3L412.16 813.8L414.66 804.9L418.98 799.6L422.27 794.4L425.68 802.6L429.09 810.1L432.50 813.1L434.20 819.8L437.61 815.3L441.02 821.3L443.52 828.7L445.23 837.7L447.27 860.1L449.43 849.6L452.05 840.7L455.34 837.7L457.95 834.0L462.16 829.5L465.57 831.7L468.98 827.2L472.39 831.0L476.59 839.2L479.09 837.7L481.70 828.0L485.91 826.5L491.02 829.5L495.23 832.5L499.55 836.2L502.05 845.1L505.45 852.6L507.95 860.1L509.66 870.5L510.57 885.4L513.07 876.5L516.48 870.5L519.89 878.0L523.18 888.4L526.59 898.9L529.20 885.4L533.41 883.2L537.61 879.5L541.93 884.7L546.93 886.2L550.34 894.4L553.75 898.9L554.55 898.7L556.82 901.4L559.09 909.5L561.48 905.4L563.75 900.0L566.82 894.6L570.68 890.6L573.75 892.6L576.82 885.2L579.89 880.5L584.43 882.5L588.30 880.5L592.05 875.1L595.11 871.7L598.18 877.1L600.57 881.2L603.64 876.4L608.18 873.1L611.25 874.4L615.11 869.0L618.86 867.0L623.52 862.3L628.07 860.9L631.93 857.6L635.00 860.9L637.27 866.3L639.66 859.6L642.73 857.6L646.48 860.9L648.86 864.3L651.82 858.2L655.68 854.9L659.55 857.6L663.41 859.6L666.48 865.0L669.55 859.6L673.30 856.9L677.16 852.8L681.82 858.2L684.77 852.8L688.64 850.8L693.30 852.8L697.84 848.8L701.70 846.1L704.77 841.4L708.64 839.3L710.23 840.0L714.77 838.7L718.64 844.8L722.50 840.7L726.36 834.6L730.91 830.6L734.77 825.2L738.64 819.8L741.70 817.1L745.45 821.2L749.32 815.1L752.39 813.1L754.66 817.8L757.73 822.5L760.80 817.1L765.45 811.7L770.00 806.3L773.86 800.9L776.93 802.3L778.41 795.5L782.27 793.5L786.14 790.1L788.41 786.1L792.27 787.4L795.34 785.4L797.61 782.0L799.89 790.1L802.95 795.5L805.23 804.3L807.50 797.6L809.89 791.5L812.95 798.2L816.02 790.1L819.77 783.4L823.64 780.7L827.50 777.3L831.36 771.3L835.11 766.5L838.18 769.9L840.45 773.3L843.52 766.5L848.18 761.8L852.73 759.1L857.39 754.4L860.45 765.9L861.93 769.9L865.00 760.5L867.39 751.0L869.32 742.9L870.45 749.5L874.32 740.6L877.95 734.8L882.61 736.5L887.27 734.0L890.11 743.0L893.86 763.5L897.50 756.9L900.34 761.8L902.16 753.7L905.00 744.6L908.75 747.9L911.48 753.7L914.32 764.3L917.95 752.8L921.70 757.7L924.55 770.8L926.36 787.2L927.27 793.8L931.02 790.5L934.77 787.2L938.52 803.6L941.25 793.8L945.00 788.9L948.75 780.7L952.39 776.6L956.14 784.8L958.98 795.4L962.61 814.2L966.36 803.6L970.11 800.3L973.86 803.6L977.50 813.4L979.43 823.2L981.25 839.6L983.18 852.7L985.91 846.2L988.75 864.2L992.39 854.4L996.14 857.6L998.98 851.9L1001.70 869.1L1005.45 863.4L1008.30 870.7L1011.02 887.1L1014.77 877.3L1018.52 867.5L1020.45 866.7L1022.84 851.9L1025.91 849.8L1030.11 845.5L1033.75 851.9L1037.95 860.4L1040.34 845.5L1042.16 838.1L1045.80 832.8L1048.18 828.6L1051.14 821.2L1055.34 819.0L1058.98 818.0L1062.05 827.5L1065.00 822.2L1068.64 820.1L1072.27 814.8L1075.23 807.4L1078.30 812.7L1080.68 822.2L1083.07 828.1L1086.14 818.0L1089.66 811.6L1093.86 805.8L1096.93 809.5L1099.32 815.9L1101.70 824.3L1103.52 831.2L1105.91 824.3L1108.41 818.0L1110.80 830.7L1113.18 826.5L1115.57 821.2L1117.95 812.7L1121.02 819.0L1123.41 827.0L1125.23 818.0L1127.61 811.6L1131.25 808.5L1134.20 806.3L1137.84 803.2L1140.91 805.3L1143.86 812.2L1146.25 805.3L1149.89 800.0L1152.95 796.8L1155.91 791.5L1158.98 788.8L1161.93 793.1L1164.32 807.4L1166.82 801.0L1169.77 794.7L1172.84 793.6L1175.80 790.4L1179.55 792.6L1180.57 793.1L1184.32 795.0L1188.18 790.2L1190.34 797.9L1193.07 801.8L1194.20 818.2L1194.77 836.5L1198.07 837.4L1199.66 831.7L1202.39 842.3L1204.09 849.0L1206.25 844.2L1208.41 837.4L1211.14 827.8L1213.41 831.7L1215.57 843.2L1217.73 851.9L1219.89 840.3L1222.61 839.4L1225.45 837.4L1227.61 831.7L1230.34 825.9L1232.50 819.1L1235.80 815.8L1239.09 811.4L1241.25 809.5L1243.41 813.4L1246.25 822.0L1248.98 826.8L1252.27 827.8L1254.43 834.5L1257.16 835.5L1259.89 833.6L1262.61 827.8L1264.32 821.1L1267.05 820.1L1269.20 824.0L1270.34 808.5L1273.52 807.6L1276.25 805.6L1279.09 802.8L1281.82 809.5L1284.55 805.6L1287.84 803.7L1290.57 810.5L1293.30 806.6L1296.02 798.9L1298.75 794.6L1302.05 796.0L1305.91 793.1L1309.20 798.9L1311.93 796.0L1315.68 784.0L1318.41 787.8L1321.14 789.3L1323.41 797.5L1326.14 781.6L1328.86 772.9L1331.59 776.7L1335.23 788.3L1338.41 791.6L1341.70 780.0L1345.80 767.0L1349.89 764.1L1352.39 769.9L1355.68 758.4L1361.36 751.1L1367.16 749.0L1371.25 754.0L1373.64 761.3L1376.93 751.1L1381.02 745.4L1384.32 756.9L1386.82 741.0L1390.91 739.6L1393.41 745.4L1395.91 735.2L1400.80 732.4L1405.68 728.7L1409.77 720.8L1413.86 725.1L1417.16 733.8L1420.45 739.6L1422.95 748.3L1426.25 736.7L1429.55 728.0L1432.84 736.7L1435.23 761.3L1437.73 748.3L1441.02 742.5L1444.32 733.8L1446.70 739.6L1449.20 749.7L1451.70 736.7L1454.09 745.4L1456.59 730.9L1459.09 710.7L1463.18 700.6L1465.68 689.0L1468.07 681.8L1471.36 674.6L1473.86 668.8L1477.16 678.9L1480.45 671.7L1483.75 681.8L1486.93 676.0L1490.23 700.6L1490.91 700.1L1492.95 671.2L1496.82 668.9L1498.86 674.7L1500.11 694.3L1501.48 715.1L1504.77 708.2L1507.39 714.0L1509.32 722.1L1511.36 707.1L1513.98 689.7L1516.59 682.2L1519.89 687.4L1522.50 686.2L1524.43 697.8L1527.05 701.3L1529.09 709.4L1530.34 720.9L1532.39 734.8L1535.00 731.3L1536.25 748.7L1538.86 734.8L1540.91 720.9L1544.20 714.0L1547.50 727.9L1549.43 714.0L1552.05 708.2L1555.34 720.9L1558.64 707.1L1561.25 714.0L1563.18 732.5L1565.80 733.6L1567.84 724.4L1570.45 716.3L1573.75 710.5L1577.05 708.2L1578.98 702.4L1580.91 714.0L1584.20 710.5L1587.50 707.1L1590.80 701.3L1593.41 707.1L1596.70 700.1L1598.64 690.9L1600.00 680.5L1602.61 674.7L1605.23 672.4L1607.84 677.0L1610.45 679.3L1612.50 674.7L1615.80 671.2L1619.09 665.4L1622.39 658.5L1625.00 653.9L1627.61 660.8L1630.00 628.7L1633.52 629.8L1637.16 629.8L1640.23 631.9L1642.61 639.3L1646.25 641.5L1649.77 643.6L1653.41 647.8L1655.80 642.5L1658.86 630.9L1662.50 622.4L1664.89 621.3L1667.27 611.8L1669.09 622.4L1670.91 627.7L1673.30 620.3L1676.36 622.4L1679.32 624.5L1682.39 610.7L1684.77 610.2L1686.59 624.5L1688.41 636.2L1690.80 627.7L1693.18 629.8L1695.00 637.2L1697.39 639.3L1699.77 627.7L1702.16 615.0L1705.23 603.3L1708.18 595.9L1711.25 601.2L1714.20 603.3L1716.70 616.0L1719.09 611.8L1721.48 604.4L1724.55 599.1L1727.50 601.2L1729.89 599.1L1731.70 611.8L1733.52 601.2L1736.59 599.1L1738.30 606.5L1739.55 626.6L1740.80 639.3L1743.18 631.9L1745.57 643.6L1748.52 641.5L1751.02 647.8L1752.84 656.3L1754.55 669.0L1757.05 664.8L1760.00 654.2L1763.64 642.5L1766.59 633.0L1769.09 622.4L1771.48 615.0L1773.86 618.2L1776.25 601.2L1779.32 591.7L1781.82 593.8L1786.25 612.9L1790.80 595.1L1795.23 584.3L1798.64 589.2L1801.93 608.9L1805.34 593.2L1809.77 582.3L1814.32 585.3L1817.61 569.5L1821.02 556.6L1824.43 554.7L1826.59 564.5L1828.86 547.8L1833.41 544.8L1836.70 554.7L1838.98 543.8L1842.27 538.9L1844.55 589.2L1846.36 648.4L1847.95 725.4L1850.23 683.9L1852.39 691.8L1855.80 672.1L1859.09 678.0L1862.50 630.7L1865.91 624.7L1870.34 632.6L1873.75 618.8L1878.18 630.7L1882.73 620.8L1887.16 638.5L1890.57 624.7L1893.86 648.4L1896.14 579.3L1900.68 571.4L1905.11 579.3L1908.52 565.5L1912.95 555.7L1916.93 553.5L1920.45 536.5L1924.89 524.1L1928.41 514.9L1932.73 507.2L1937.16 496.4L1940.68 481.0L1944.09 487.1L1947.61 496.4L1951.14 476.3L1953.75 462.4L1955.57 474.8L1959.09 471.7L1961.70 481.0L1965.23 488.7L1968.64 474.8L1972.16 439.3L1974.77 450.1L1977.50 467.1L1980.11 453.2L1983.64 427.0L1986.25 440.9L1988.86 450.1L1991.48 447.0L1994.09 470.2L1996.70 524.1L1999.32 477.9L2002.84 474.8L2005.45 482.5L2008.98 514.9L2011.59 490.2L2014.32 482.5L2016.93 505.6L2018.64 531.9L2022.16 521.1L2025.68 490.2L2029.20 476.3L2031.82 494.8L2034.43 518.0L2037.95 548.8L2041.48 521.1L2044.89 476.3L2048.64 466.1L2052.61 464.3L2056.48 481.7L2059.43 452.2L2062.39 433.1L2067.39 415.8L2071.25 414.0L2074.20 438.3L2078.18 410.6L2081.14 393.2L2086.02 396.7L2089.09 410.6L2092.95 403.6L2096.93 405.4L2100.91 393.2L2104.77 405.4L2108.75 401.9L2113.64 414.0L2115.68 429.6L2119.55 448.7L2122.50 427.9L2126.48 410.6L2129.43 384.6L2133.41 386.3L2137.27 400.2L2140.23 375.9L2143.18 372.4L2146.14 351.6L2149.09 336.0L2152.05 334.3L2156.02 349.9L2160.91 319.5L2164.89 330.8L2167.84 353.4L2169.77 369.0L2173.75 367.2L2176.14 389.8L2177.39 377.2L2179.32 400.6L2181.25 373.7L2184.20 361.6L2186.25 378.9L2189.20 359.8L2193.07 363.3L2196.02 366.8L2198.98 382.4L2201.93 396.3L2204.89 373.7L2207.84 387.6L2210.80 370.3L2213.75 332.1L2216.70 325.2L2219.77 309.6L2223.64 309.6L2226.59 316.5L2228.64 356.4L2229.55 406.7L2232.50 356.4L2235.45 337.3L2238.41 321.7L2242.39 332.1L2246.36 344.2L2249.32 323.4L2252.27 323.4L2255.23 337.3L2257.16 311.3L2260.11 333.8L2263.07 320.0L2267.05 307.8L2270.00 285.3L2272.95 295.7L2276.82 292.2L2281.82 294.0L2284.77 285.3L2287.73 271.4L2290.68 287.0L2293.64 280.1L2296.59 247.1L2299.55 283.6L2302.50 323.4" stroke="#FF0000" stroke-width="6.5" fill="none" stroke-linejoin="round"/>
<path d="M156.78 222.6H220.95" stroke="#00B050" stroke-width="7.2" stroke-linecap="round"/>
<path d="M155.91 265.7h0M166.22 265.7h0M176.52 265.7h0M186.83 265.7h0M197.14 265.7h0M207.44 265.7h0M217.75 265.7h0" stroke="#00B050" stroke-width="4.6" stroke-linecap="round" fill="none"/>
<path d="M155.91 308.8h0M166.22 308.8h0M176.52 308.8h0M186.83 308.8h0M197.14 308.8h0M207.44 308.8h0M217.75 308.8h0" stroke="#00B050" stroke-width="4.6" stroke-linecap="round" fill="none"/>
<path d="M156.82 351.9H220.45" stroke="#000" stroke-width="5.0" stroke-linecap="round"/>
<path d="M156.42 395.0h0M164.12 395.0h0M171.83 395.0h0M179.53 395.0h0M187.24 395.0h0M194.94 395.0h0M202.65 395.0h0M210.35 395.0h0M218.06 395.0h0" stroke="#C00000" stroke-width="3.6" stroke-linecap="round" fill="none"/>
<path d="M157.42 438.1H219.85" stroke="#FF0000" stroke-width="6.2" stroke-linecap="round"/>
</g>
</svg></body></html>
